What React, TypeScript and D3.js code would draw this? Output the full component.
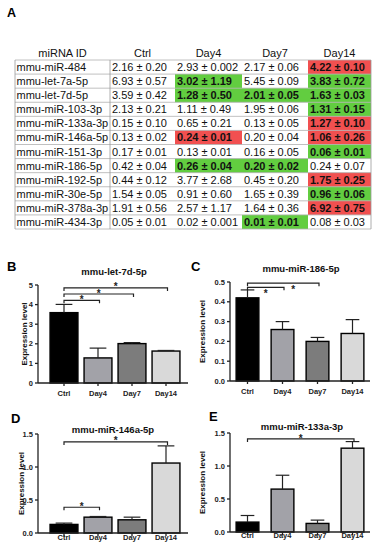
import React from "react";
import * as d3 from "d3";

// ---- table data ----
const mirnaIds = [
	"mmu-miR-484",
	"mmu-let-7a-5p",
	"mmu-let-7d-5p",
	"mmu-miR-103-3p",
	"mmu-miR-133a-3p",
	"mmu-miR-146a-5p",
	"mmu-miR-151-3p",
	"mmu-miR-186-5p",
	"mmu-miR-192-5p",
	"mmu-miR-30e-5p",
	"mmu-miR-378a-3p",
	"mmu-miR-434-3p",
];
const tableHeaders = ["miRNA ID", "Ctrl", "Day4", "Day7", "Day14"];
const ctrlCol = ["2.16 ± 0.20", "6.93 ± 0.57", "3.59 ± 0.42", "2.13 ± 0.21", "0.15 ± 0.10", "0.13 ± 0.02", "0.17 ± 0.01", "0.42 ± 0.04", "0.44 ± 0.12", "1.54 ± 0.05", "1.91 ± 0.56", "0.05 ± 0.01"];
const day4Col = ["2.93 ± 0.002", "3.02 ± 1.19", "1.28 ± 0.50", "1.11 ± 0.49", "0.65 ± 0.21", "0.24 ± 0.01", "0.13 ± 0.01", "0.26 ± 0.04", "3.77 ± 2.68", "0.91 ± 0.60", "2.57 ± 1.17", "0.02 ± 0.001"];
const day7Col = ["2.17 ± 0.06", "5.45 ± 0.09", "2.01 ± 0.05", "1.95 ± 0.06", "0.13 ± 0.05", "0.20 ± 0.04", "0.16 ± 0.05", "0.20 ± 0.02", "0.45 ± 0.20", "1.65 ± 0.39", "1.64 ± 0.36", "0.01 ± 0.01"];
const day14Col = ["4.22 ± 0.10", "3.83 ± 0.72", "1.63 ± 0.03", "1.31 ± 0.15", "1.27 ± 0.10", "1.06 ± 0.26", "0.06 ± 0.01", "0.24 ± 0.07", "1.75 ± 0.25", "0.96 ± 0.06", "6.92 ± 0.75", "0.08 ± 0.03"];
// "up" = increased (red), "down" = decreased (green), "" = not significant
const ctrlSig = ["", "", "", "", "", "", "", "", "", "", "", ""];
const day4Sig = ["", "down", "down", "", "", "up", "", "down", "", "", "", ""];
const day7Sig = ["", "", "down", "", "", "", "", "down", "", "", "", "down"];
const day14Sig = ["up", "down", "down", "down", "up", "up", "down", "", "up", "down", "up", ""];

// ---- bar chart data ----
const days = ["Ctrl", "Day4", "Day7", "Day14"];
const let7dMean = [3.59, 1.28, 2.01, 1.63];
const let7dSd = [0.42, 0.5, 0.05, 0.03];
const let7dPairs: [string, string][] = [["Ctrl", "Day4"], ["Ctrl", "Day7"], ["Ctrl", "Day14"]];
const miR186Mean = [0.42, 0.26, 0.2, 0.24];
const miR186Sd = [0.04, 0.04, 0.02, 0.07];
const miR186Pairs: [string, string][] = [["Ctrl", "Day4"], ["Ctrl", "Day7"]];
const miR146aMean = [0.13, 0.24, 0.2, 1.06];
const miR146aSd = [0.02, 0.01, 0.04, 0.26];
const miR146aPairs: [string, string][] = [["Ctrl", "Day14"], ["Ctrl", "Day4"]];
const miR133aMean = [0.15, 0.65, 0.13, 1.27];
const miR133aSd = [0.1, 0.21, 0.05, 0.1];
const miR133aPairs: [string, string][] = [["Ctrl", "Day14"]];

const FONT = "'Liberation Sans', Arial, sans-serif";
const barFills = ["#000000", "#a2a2a8", "#7c7c7c", "#d9d9d9"];
const GREEN = "#62cd40";
const RED = "#f15050";

function MiRNATable() {
	const colBounds = [15, 110, 175, 242, 308, 371];
	const top = 60;
	const bottom = 229;
	const y = d3
		.scaleBand<number>()
		.domain(d3.range(mirnaIds.length))
		.range([top, bottom]);
	const cols = [ctrlCol, day4Col, day7Col, day14Col];
	const sigs = [ctrlSig, day4Sig, day7Sig, day14Sig];

	return (
		<g fontFamily={FONT} fontSize={11}>
			{tableHeaders.map((h, i) => (
				<text
					key={h}
					x={(colBounds[i] + colBounds[i + 1]) / 2}
					y={57}
					textAnchor="middle"
					fill="#111"
				>
					{h}
				</text>
			))}
			{/* highlighted cells */}
			{sigs.map((col, c) =>
				col.map((s, r) =>
					s ? (
						<rect
							key={`${c}-${r}`}
							x={colBounds[c + 1]}
							y={y(r)}
							width={colBounds[c + 2] - colBounds[c + 1]}
							height={y.bandwidth()}
							fill={s === "up" ? RED : GREEN}
						/>
					) : null
				)
			)}
			{/* grid lines */}
			{d3.range(mirnaIds.length + 1).map((r) => (
				<line
					key={r}
					x1={colBounds[0]}
					x2={colBounds[5]}
					y1={top + r * y.step()}
					y2={top + r * y.step()}
					stroke="#b0b0b0"
					strokeWidth={0.8}
				/>
			))}
			{[colBounds[0], colBounds[1], colBounds[5]].map((x) => (
				<line key={x} x1={x} x2={x} y1={top} y2={bottom} stroke="#9a9a9a" strokeWidth={0.8} />
			))}
			{mirnaIds.map((id, r) => (
				<text key={id} x={colBounds[0] + 1.5} y={(y(r) || 0) + 11} fill="#111">
					{id}
				</text>
			))}
			{cols.map((col, c) =>
				col.map((v, r) => (
					<text
						key={`${c}-${r}`}
						x={colBounds[c + 1] + 2}
						y={(y(r) || 0) + 11}
						fill="#111"
						fontWeight={sigs[c][r] ? "bold" : "normal"}
					>
						{v}
					</text>
				))
			)}
		</g>
	);
}

interface BracketLayout {
	level: number;
	starDx?: number;
	starDy?: number;
}

interface PanelProps {
	letter: string;
	letterX: number;
	letterY: number;
	title: string;
	titleX: number;
	titleY: number;
	mean: number[];
	sd: number[];
	pairs: [string, string][];
	brackets: BracketLayout[];
	yMax: number;
	tickStep: number;
	tickFormat: string;
	axisX: number;
	axisRight: number;
	yBottom: number;
	yTop: number;
	bandRange: [number, number];
	padding: number;
	labelY: number;
	yLabelX: number;
}

function BarPanel(p: PanelProps) {
	const x = d3.scaleBand().domain(days).range(p.bandRange).paddingInner(p.padding).paddingOuter(p.padding / 2);
	const y = d3.scaleLinear().domain([0, p.yMax]).range([p.yBottom, p.yTop]);
	const ticks = d3.range(0, p.yMax + p.tickStep / 2, p.tickStep);
	const fmt = d3.format(p.tickFormat);
	const bw = x.bandwidth();
	const cx = (d: string) => (x(d) || 0) + bw / 2;
	const cap = bw * 0.6;

	return (
		<g fontFamily={FONT} fontWeight="bold">
			<text x={p.letterX} y={p.letterY} fontSize={13} fill="#000">
				{p.letter}
			</text>
			<text x={p.titleX} y={p.titleY} fontSize={9.5} textAnchor="middle" fill="#111">
				{p.title}
			</text>
			<text
				transform={`translate(${p.yLabelX}, ${(p.yBottom + p.yTop) / 2}) rotate(-90)`}
				fontSize={8}
				textAnchor="middle"
				fill="#111"
			>
				Expression level
			</text>

			{/* bars */}
			{days.map((d, i) => (
				<rect
					key={d}
					x={x(d)}
					y={y(p.mean[i])}
					width={bw}
					height={y(0) - y(p.mean[i])}
					fill={barFills[i]}
					stroke="#000"
					strokeWidth={1.4}
				/>
			))}
			{/* error bars (upper only) */}
			<g stroke="#222" strokeWidth={1.2}>
				{days.map((d, i) => (
					<g key={d}>
						<line x1={cx(d)} x2={cx(d)} y1={y(p.mean[i])} y2={y(p.mean[i] + p.sd[i])} />
						<line
							x1={cx(d) - cap / 2}
							x2={cx(d) + cap / 2}
							y1={y(p.mean[i] + p.sd[i])}
							y2={y(p.mean[i] + p.sd[i])}
						/>
					</g>
				))}
			</g>

			{/* axes */}
			<g stroke="#222" strokeWidth={1.3}>
				<line x1={p.axisX} x2={p.axisX} y1={y(0)} y2={y(p.yMax)} />
				{ticks.map((t) => (
					<line key={t} x1={p.axisX - 3} x2={p.axisX} y1={y(t)} y2={y(t)} />
				))}
				<line x1={p.axisX} x2={p.axisRight} y1={y(0)} y2={y(0)} />
				{days.map((d) => (
					<line key={d} x1={cx(d)} x2={cx(d)} y1={y(0)} y2={y(0) + 3} />
				))}
			</g>
			{ticks.map((t) => (
				<text key={t} x={p.axisX - 5} y={y(t)} dy="0.35em" fontSize={7.5} textAnchor="end" fill="#222">
					{fmt(t)}
				</text>
			))}
			{days.map((d) => (
				<text key={d} x={cx(d)} y={p.labelY} fontSize={7.5} textAnchor="middle" fill="#222">
					{d}
				</text>
			))}

			{/* significance brackets */}
			{p.pairs.map(([a, b], i) => {
				const b0 = p.brackets[i];
				const ly = y(b0.level);
				const xa = cx(a);
				const xb = cx(b) + 1.5;
				return (
					<g key={i}>
						<path
							d={`M${xa},${ly + 3}V${ly}H${xb}V${ly + 3}`}
							fill="none"
							stroke="#222"
							strokeWidth={1.2}
						/>
						<text
							x={(xa + xb) / 2 + (b0.starDx || 0)}
							y={ly + 2.5 + (b0.starDy || 0)}
							fontSize={10}
							textAnchor="middle"
							fill="#222"
						>
							*
						</text>
					</g>
				);
			})}
		</g>
	);
}

export default function App() {
	return (
		<svg
			width={381}
			height={550}
			style={{ position: "absolute", left: 0, top: 0, background: "#fff" }}
		>
			<rect width={381} height={550} fill="#fff" />
			<text x={7} y={17} fontFamily={FONT} fontWeight="bold" fontSize={12.5}>
				A
			</text>
			<MiRNATable />

			<BarPanel
				letter="B"
				letterX={7}
				letterY={271}
				title="mmu-let-7d-5p"
				titleX={114}
				titleY={275}
				mean={let7dMean}
				sd={let7dSd}
				pairs={let7dPairs}
				brackets={[{ level: 4.22 }, { level: 4.54 }, { level: 4.85 }]}
				yMax={5}
				tickStep={1}
				tickFormat="d"
				axisX={38}
				axisRight={188}
				yBottom={383}
				yTop={285}
				bandRange={[47, 183]}
				padding={0.18}
				labelY={396}
				yLabelX={27}
			/>
			<BarPanel
				letter="C"
				letterX={191}
				letterY={271}
				title="mmu-miR-186-5p"
				titleX={301}
				titleY={272}
				mean={miR186Mean}
				sd={miR186Sd}
				pairs={miR186Pairs}
				brackets={[
					{ level: 0.473, starDy: 7 },
					{ level: 0.494, starDx: 10, starDy: 7 },
				]}
				yMax={0.5}
				tickStep={0.1}
				tickFormat=".1f"
				axisX={230}
				axisRight={370}
				yBottom={381}
				yTop={282}
				bandRange={[230, 370]}
				padding={0.35}
				labelY={394}
				yLabelX={205}
			/>
			<BarPanel
				letter="D"
				letterX={11}
				letterY={423}
				title="mmu-miR-146a-5p"
				titleX={113}
				titleY={433}
				mean={miR146aMean}
				sd={miR146aSd}
				pairs={miR146aPairs}
				brackets={[{ level: 1.38 }, { level: 0.39 }]}
				yMax={1.5}
				tickStep={0.5}
				tickFormat=".1f"
				axisX={38}
				axisRight={188}
				yBottom={533}
				yTop={434}
				bandRange={[47, 183]}
				padding={0.18}
				labelY={540}
				yLabelX={24}
			/>
			<BarPanel
				letter="E"
				letterX={209}
				letterY={421}
				title="mmu-miR-133a-3p"
				titleX={302}
				titleY={430}
				mean={miR133aMean}
				sd={miR133aSd}
				pairs={miR133aPairs}
				brackets={[{ level: 1.41, starDy: 1 }]}
				yMax={1.5}
				tickStep={0.5}
				tickFormat=".1f"
				axisX={230}
				axisRight={370}
				yBottom={532}
				yTop={433}
				bandRange={[230, 370]}
				padding={0.35}
				labelY={538}
				yLabelX={205}
			/>
		</svg>
	);
}
